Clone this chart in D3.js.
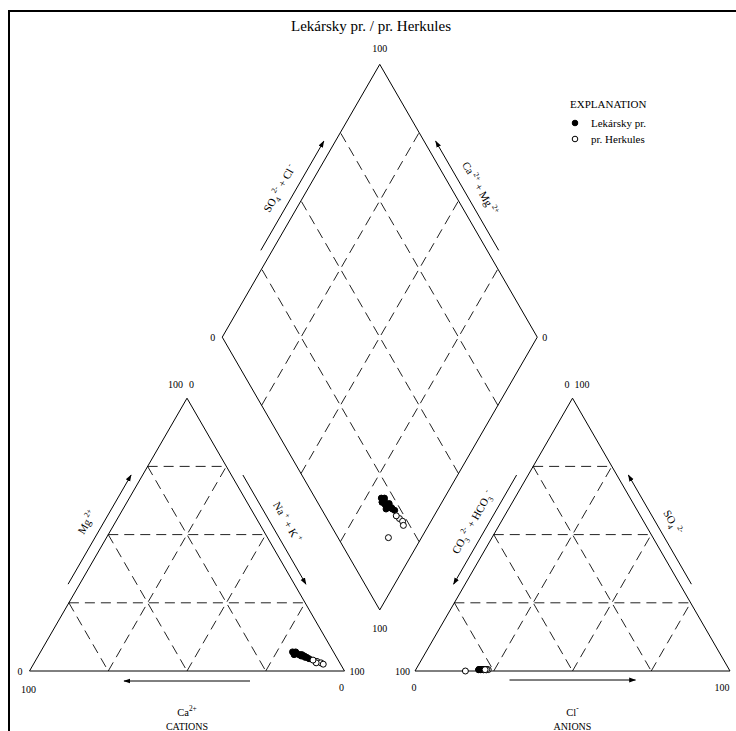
<!DOCTYPE html>
<html><head><meta charset="utf-8">
<script src="https://cdn.jsdelivr.net/npm/d3@7"></script>
<style>
body{margin:0;background:#fff}
svg{display:block}
text{font-family:"Liberation Serif","Times New Roman",serif;fill:#000}
</style>
</head><body>
<script>
// ---------------- data (meq %) ----------------
const chartTitle = "Lekársky pr. / pr. Herkules";
const seriesNames = ["Lekársky pr.", "pr. Herkules"];
// Lekársky prameň (filled)
const lekCa  = [13, 12.5, 12, 11.5, 11, 10.5, 10, 10, 9.5, 9, 12, 11, 10.5, 13];
const lekMg  = [7, 6.5, 6.5, 6, 6, 5.5, 5.5, 5, 5, 4.5, 7, 5.5, 6, 6];
const lekCl  = [20.5, 20, 21, 20.5, 21, 21.5, 21.5, 22, 22, 22.5, 21.5, 20, 22, 20];
const lekSO4 = [0.5, 0.5, 0.5, 0.5, 0.5, 0.5, 0.5, 0.5, 0.5, 0.5, 0.5, 0.5, 0.5, 0.5];
// prameň Herkules (open)
const herCa  = [7, 6, 5.5, 7.5, 8];
const herMg  = [3.5, 3, 2.5, 3, 4];
const herCl  = [22.5, 23, 22.5, 16, 22];
const herSO4 = [0.5, 0.5, 0.5, 0, 0.5];
const gridTicks = [25, 50, 75];

// ---------------- layout ----------------
const W = 736, H = 731;
const r3 = Math.sqrt(3) / 2;
const side = 315, h = side * r3;
const base = 671;
const LBL = [29.5, base], LBR = [29.5 + side, base], LAP = [29.5 + side / 2, base - h];
const gap = 70.5;
const RBL = [LBR[0] + gap, base], RBR = [LBR[0] + gap + side, base], RAP = [RBL[0] + side / 2, base - h];
const DB = [(LBR[0] + RBL[0]) / 2, base - gap * r3];
const DL = [DB[0] - side / 2, DB[1] - h], DR = [DB[0] + side / 2, DB[1] - h], DT = [DB[0], DB[1] - 2 * h];

const u = d3.scaleLinear().domain([0, 100]).range([0, side]);

function cationXY(ca, mg, nak) { return [LBL[0] + u(nak) + u(mg) / 2, base - u(mg) * r3]; }
function anionXY(hco3, so4, cl) { return [RBL[0] + u(cl) + u(so4) / 2, base - u(so4) * r3]; }
function diamondXY(c, a) { return [DB[0] + (u(a) - u(c)) / 2, DB[1] - (u(a) + u(c)) * r3]; }

const svg = d3.select("body").append("svg").attr("width", W).attr("height", H);

svg.append("defs").append("marker")
  .attr("id", "ah").attr("viewBox", "0 0 10 10").attr("refX", 9).attr("refY", 5)
  .attr("markerWidth", 7).attr("markerHeight", 7).attr("markerUnits", "userSpaceOnUse")
  .attr("orient", "auto")
  .append("path").attr("d", "M0,1.5L10,5L0,8.5Z").attr("fill", "#000");

// frame
svg.append("rect").attr("x", 9).attr("y", 11).attr("width", 760).attr("height", 760)
  .attr("fill", "none").attr("stroke", "#000").attr("stroke-width", 2);

// title
svg.append("text").attr("x", 371).attr("y", 31).attr("text-anchor", "middle")
  .attr("font-size", 15).text(chartTitle);

const line = d3.line();
const gGrid = svg.append("g").attr("stroke", "#222").attr("stroke-width", 1)
  .attr("stroke-dasharray", "10,6").attr("fill", "none");
const gEdge = svg.append("g").attr("stroke", "#000").attr("stroke-width", 1).attr("fill", "none");

// grids
gridTicks.forEach(f => {
  [[cationXY(100 - f, f, 0), cationXY(0, f, 100 - f)],
   [cationXY(f, 100 - f, 0), cationXY(f, 0, 100 - f)],
   [cationXY(100 - f, 0, f), cationXY(0, 100 - f, f)],
   [anionXY(100 - f, f, 0), anionXY(0, f, 100 - f)],
   [anionXY(f, 100 - f, 0), anionXY(f, 0, 100 - f)],
   [anionXY(100 - f, 0, f), anionXY(0, 100 - f, f)],
   [diamondXY(f, 0), diamondXY(f, 100)],
   [diamondXY(0, f), diamondXY(100, f)]
  ].forEach(seg => gGrid.append("path").attr("d", line(seg)));
});

// outlines
gEdge.append("path").attr("d", line([LBL, LBR, LAP]) + "Z");
gEdge.append("path").attr("d", line([RBL, RBR, RAP]) + "Z");
gEdge.append("path").attr("d", line([DB, DL, DT, DR]) + "Z");

// arrows along edges
function lerp(a, b, t) { return [a[0] + (b[0] - a[0]) * t, a[1] + (b[1] - a[1]) * t]; }
function edgeArrow(p0, p1, nrm, off) {
  const a = lerp(p0, p1, 0.3), b = lerp(p0, p1, 0.7);
  const s = [a[0] + nrm[0] * off, a[1] + nrm[1] * off], e = [b[0] + nrm[0] * off, b[1] + nrm[1] * off];
  svg.append("path").attr("d", line([s, e])).attr("stroke", "#000").attr("stroke-width", 1)
    .attr("fill", "none").attr("marker-end", "url(#ah)");
}
const nUL = [-r3, -0.5], nUR = [r3, -0.5], nDown = [0, 1];
edgeArrow(LBL, LAP, nUL, 10);
edgeArrow(LAP, LBR, nUR, 10);
edgeArrow(LBR, LBL, nDown, 10);
edgeArrow(RAP, RBL, nUL, 10);
edgeArrow(RBR, RAP, nUR, 10);
edgeArrow(RBL, RBR, nDown, 9);
edgeArrow(DL, DT, nUL, 10);
edgeArrow(DR, DT, nUR, 10);

// rich labels
function richText(g, segs, fs) {
  const t = g.append("text").attr("font-size", fs).attr("text-anchor", "middle");
  let prev = 0;
  segs.forEach(s => {
    const shift = s.sub ? fs * 0.3 : s.sup ? -fs * 0.45 : 0;
    t.append("tspan").attr("dy", shift - prev).attr("font-size", (s.sub || s.sup) ? fs * 0.7 : fs)
      .text(s.t);
    prev = shift;
  });
  return t;
}
function edgeLabel(p0, p1, nrm, off, angle, segs) {
  const m = lerp(p0, p1, 0.5);
  const g = svg.append("g").attr("transform",
    `translate(${m[0] + nrm[0] * off},${m[1] + nrm[1] * off}) rotate(${angle})`);
  richText(g, segs, 11);
}
edgeLabel(LBL, LAP, nUL, 21, -60, [{t: "Mg"}, {t: " 2+", sup: 1}]);
edgeLabel(LAP, LBR, nUR, 21, 60, [{t: "Na"}, {t: " +", sup: 1}, {t: " + K"}, {t: " +", sup: 1}]);
edgeLabel(RAP, RBL, nUL, 21, -60, [{t: "CO"}, {t: "3", sub: 1}, {t: " 2-", sup: 1}, {t: " + HCO"}, {t: "3", sub: 1}, {t: " -", sup: 1}]);
edgeLabel(RBR, RAP, nUR, 21, 60, [{t: "SO"}, {t: "4", sub: 1}, {t: " 2-", sup: 1}]);
edgeLabel(DL, DT, nUL, 21, -60, [{t: "SO"}, {t: "4", sub: 1}, {t: " 2-", sup: 1}, {t: " + Cl"}, {t: " -", sup: 1}]);
edgeLabel(DR, DT, nUR, 21, 60, [{t: "Ca"}, {t: " 2+", sup: 1}, {t: " + Mg"}, {t: " 2+", sup: 1}]);

// bottom axis titles
{
  let g = svg.append("g").attr("transform", `translate(${LAP[0]},716)`);
  richText(g, [{t: "Ca"}, {t: "2+", sup: 1}], 10.5);
  svg.append("text").attr("x", LAP[0]).attr("y", 730).attr("text-anchor", "middle").attr("font-size", 10).text("CATIONS");
  g = svg.append("g").attr("transform", `translate(${RAP[0]},716)`);
  richText(g, [{t: "Cl"}, {t: "-", sup: 1}], 10.5);
  svg.append("text").attr("x", RAP[0]).attr("y", 730).attr("text-anchor", "middle").attr("font-size", 10).text("ANIONS");
}

// tick labels
function lab(x, y, txt, anchor) {
  svg.append("text").attr("x", x).attr("y", y).attr("font-size", 10)
    .attr("text-anchor", anchor || "middle").text(txt);
}
lab(LAP[0] - 4, LAP[1] - 10, "100", "end"); lab(LAP[0] + 2, LAP[1] - 10, "0", "start");
lab(LBL[0] - 7, base + 4, "0", "end"); lab(LBL[0] - 1, base + 22, "100");
lab(LBR[0] + 5, base + 4, "100", "start"); lab(LBR[0] - 3, base + 20, "0");
lab(RAP[0] - 3, RAP[1] - 10, "0", "end"); lab(RAP[0] + 2, RAP[1] - 10, "100", "start");
lab(RBL[0] - 5, base + 4, "100", "end"); lab(RBL[0] - 1, base + 20, "0");
lab(RBR[0] - 8, base + 20, "100");
lab(DT[0], DT[1] - 12, "100"); lab(DB[0], DB[1] + 22, "100");
lab(DL[0] - 7, DL[1] + 4, "0", "end"); lab(DR[0] + 5, DR[1] + 4, "0", "start");

// points
function rows(ca, mg, cl, so4) {
  return ca.map((c, i) => ({ca: c, mg: mg[i], nak: 100 - c - mg[i], cl: cl[i], so4: so4[i], hco3: 100 - cl[i] - so4[i]}));
}
const groups = [
  {rows: rows(lekCa, lekMg, lekCl, lekSO4), fill: "#000"},
  {rows: rows(herCa, herMg, herCl, herSO4), fill: "#fff"}
];
groups.forEach(gr => {
  const g = svg.append("g").attr("fill", gr.fill).attr("stroke", "#000").attr("stroke-width", 1);
  gr.rows.forEach(d => {
    [cationXY(d.ca, d.mg, d.nak), anionXY(d.hco3, d.so4, d.cl), diamondXY(d.ca + d.mg, d.cl + d.so4)]
      .forEach(p => g.append("circle").attr("cx", p[0]).attr("cy", p[1]).attr("r", 3));
  });
});

// legend
svg.append("text").attr("x", 570).attr("y", 108).attr("font-size", 11).text("EXPLANATION");
seriesNames.forEach((n, i) => {
  svg.append("circle").attr("cx", 575).attr("cy", 123 + i * 16).attr("r", 2.8)
    .attr("fill", groups[i].fill).attr("stroke", "#000");
  svg.append("text").attr("x", 591).attr("y", 127 + i * 16).attr("font-size", 11).text(n);
});
</script>
</body></html>
